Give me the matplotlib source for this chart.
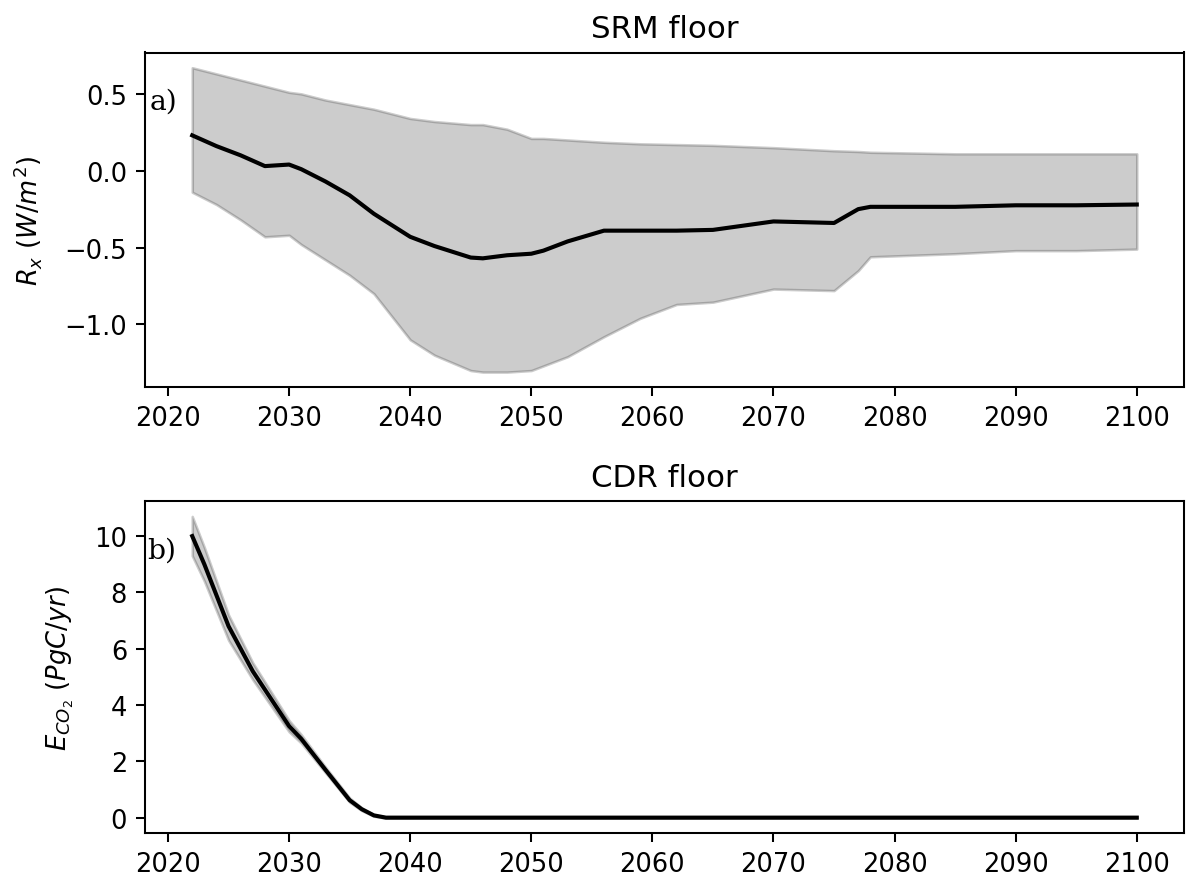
import matplotlib
matplotlib.use("Agg")
import matplotlib.pyplot as plt

# SRM floor (panel a): mean and spread of R_x
srm_years = [2022, 2024, 2025, 2026, 2028, 2030, 2031, 2033, 2035, 2037,
             2040, 2042, 2045, 2046, 2048, 2050, 2051, 2053, 2056, 2059,
             2062, 2065, 2070, 2075, 2077, 2078, 2085, 2090, 2095, 2100]
srm_mean = [0.23, 0.16, 0.13, 0.10, 0.03, 0.04, 0.01, -0.07, -0.16, -0.28,
            -0.43, -0.49, -0.565, -0.57, -0.55, -0.54, -0.52, -0.46, -0.39, -0.39,
            -0.39, -0.385, -0.33, -0.34, -0.25, -0.235, -0.235, -0.225, -0.225, -0.22]
srm_upper = [0.67, 0.63, 0.61, 0.59, 0.55, 0.51, 0.50, 0.46, 0.43, 0.40,
             0.34, 0.32, 0.30, 0.30, 0.27, 0.21, 0.21, 0.20, 0.185, 0.175,
             0.17, 0.165, 0.15, 0.13, 0.125, 0.12, 0.11, 0.11, 0.11, 0.11]
srm_lower = [-0.14, -0.22, -0.27, -0.32, -0.43, -0.42, -0.48, -0.58, -0.68, -0.80,
             -1.10, -1.20, -1.30, -1.31, -1.31, -1.30, -1.27, -1.21, -1.08, -0.96,
             -0.87, -0.855, -0.77, -0.78, -0.65, -0.56, -0.54, -0.52, -0.52, -0.51]

# CDR floor (panel b): mean and spread of E_CO2
cdr_years = [2022, 2023, 2025, 2027, 2030, 2031, 2033, 2035, 2036, 2037, 2038, 2100]
cdr_mean = [10.0, 9.0, 6.8, 5.2, 3.25, 2.8, 1.7, 0.62, 0.3, 0.08, 0.0, 0.0]
cdr_upper = [10.7, 9.6, 7.2, 5.5, 3.45, 2.95, 1.8, 0.7, 0.35, 0.1, 0.02, 0.02]
cdr_lower = [9.3, 8.4, 6.3, 4.9, 3.05, 2.65, 1.6, 0.55, 0.25, 0.05, -0.02, -0.02]

W, H, DPI = 1189, 883, 185
fig = plt.figure(figsize=(W / DPI, H / DPI), dpi=DPI)

ax1 = fig.add_axes([145 / W, 1 - 388.3 / H, (1184 - 145) / W, (388.3 - 53.5) / H])
ax2 = fig.add_axes([145 / W, 1 - 834.3 / H, (1184 - 145) / W, (834.3 - 502.3) / H])

ax1.fill_between(srm_years, srm_lower, srm_upper, color="k", alpha=0.2)
ax1.plot(srm_years, srm_mean, color="k", linewidth=1.6)
ax1.set_title("SRM floor")
ax1.set_ylabel(r"$R_x\ (W/m^2)$", labelpad=8)
ax1.set_xticks(range(2020, 2101, 10))

ax2.fill_between(cdr_years, cdr_lower, cdr_upper, color="k", alpha=0.2)
ax2.plot(cdr_years, cdr_mean, color="k", linewidth=1.6)
ax2.set_title("CDR floor")
ax2.set_ylabel(r"$E_{CO_2}\ (PgC/yr)$", labelpad=7)
ax2.set_xticks(range(2020, 2101, 10))
ax2.set_yticks([0, 2, 4, 6, 8, 10])

# panel letters
fig.text(150 / W, 1 - 110 / H, "a)", family="DejaVu Serif", fontsize=11, va="baseline")
fig.text(147 / W, 1 - 559 / H, "b)", family="DejaVu Serif", fontsize=11, va="baseline")

fig.savefig("out.png", dpi=DPI)
